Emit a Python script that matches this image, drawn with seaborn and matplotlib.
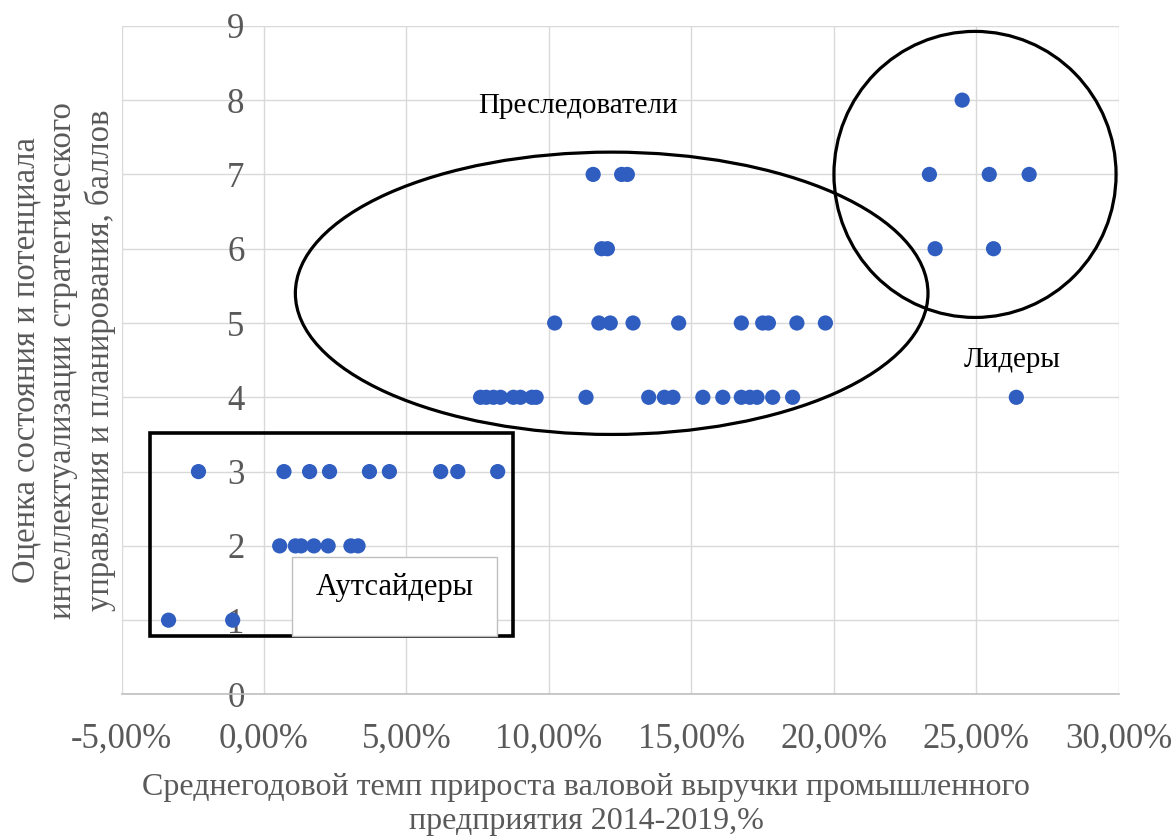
import numpy as np
import pandas as pd
import matplotlib
matplotlib.use('Agg')
import matplotlib.pyplot as plt
import seaborn as sns
from matplotlib.patches import Ellipse, Rectangle
from matplotlib.ticker import FuncFormatter

# Темп прироста выручки (%) и оценка (баллы) по строкам
growth_8 = [24.5]
growth_7 = [11.55, 12.55, 12.75, 23.35, 25.45, 26.85]
growth_6 = [11.85, 12.05, 23.55, 25.6]
growth_5 = [10.2, 11.75, 12.15, 12.95, 14.55, 16.75, 17.5, 17.7, 18.7, 19.7]
growth_4 = [7.6, 7.8, 8.05, 8.3, 8.75, 9.0, 9.4, 9.55, 11.3, 13.5, 14.05, 14.35,
            15.4, 16.1, 16.75, 17.05, 17.3, 17.85, 18.55, 26.4]
growth_3 = [-2.3, 0.7, 1.6, 2.3, 3.7, 4.4, 6.2, 6.8, 8.2]
growth_2 = [0.55, 1.1, 1.3, 1.75, 2.25, 3.05, 3.3]
growth_1 = [-3.35, -1.1]

x_ticks = [-5, 0, 5, 10, 15, 20, 25, 30]
y_ticks = list(range(0, 10))

rows = {8: growth_8, 7: growth_7, 6: growth_6, 5: growth_5,
        4: growth_4, 3: growth_3, 2: growth_2, 1: growth_1}
df = pd.DataFrame([(x, score) for score, xs in rows.items() for x in xs],
                  columns=['growth', 'score'])

sns.set_style('whitegrid')
plt.rcParams['font.family'] = ['Liberation Serif', 'DejaVu Serif']

fig = plt.figure(figsize=(11.72, 8.36), dpi=100)
ax = fig.add_axes([0.1037, 0.1693, 0.851, 0.7998])

sns.scatterplot(data=df, x='growth', y='score', ax=ax, color='#2F5EC0',
                s=120, edgecolor='none', zorder=3, clip_on=False)

ax.set_xlim(-5, 30)
ax.set_ylim(0, 9)
ax.set_xticks(x_ticks)
ax.set_yticks(y_ticks)
ax.xaxis.set_major_formatter(FuncFormatter(lambda v, p: f"{v:.2f}%".replace('.', ',')))
ax.grid(True, color='#d9d9d9', linewidth=1)
ax.set_axisbelow(True)

for s in ['top', 'right']:
    ax.spines[s].set_visible(False)
ax.spines['left'].set_position(('data', 0))
ax.spines['left'].set_visible(False)
ax.spines['bottom'].set_color('#bfbfbf')
ax.spines['bottom'].set_linewidth(1.2)

ax.tick_params(axis='x', length=0, pad=20, labelsize=25, labelcolor='#595959')
ax.tick_params(axis='y', length=0, pad=14, labelsize=25, labelcolor='#595959')
ax.set_xlabel('')
ax.set_ylabel('')

fig.text(0.5, 0.038, 'Среднегодовой темп прироста валовой выручки промышленного\nпредприятия 2014-2019,%',
         ha='center', va='center', fontsize=23, color='#595959', linespacing=1.22)
fig.text(0.054, 0.569, 'Оценка состояния и потенциала\nинтеллектуализации стратегического\nуправления и планирования, баллов',
         ha='center', va='center', rotation=90, fontsize=23.5, color='#595959',
         linespacing=1.25, multialignment='center')

# Группы
ax.add_patch(Ellipse((12.2, 5.4), 22.2, 3.8, fill=False, edgecolor='black',
                     linewidth=2.3, zorder=4))
ax.add_patch(Ellipse((24.95, 7.0), 9.9, 3.85, fill=False, edgecolor='black',
                     linewidth=2.3, zorder=4))
ax.add_patch(Rectangle((-4.0, 0.79), 12.74, 2.73, fill=False, edgecolor='black',
                       linewidth=2.6, zorder=4, clip_on=False))
ax.add_patch(Rectangle((0.98, 0.79), 7.2, 1.06, facecolor='white', edgecolor='#bfbfbf',
                       linewidth=1, zorder=4))

ax.text(11.0, 7.92, 'Преследователи', ha='center', va='center', fontsize=21, color='black', zorder=5)
ax.text(26.25, 4.5, 'Лидеры', ha='center', va='center', fontsize=21, color='black', zorder=5)
ax.text(4.6, 1.44, 'Аутсайдеры', ha='center', va='center', fontsize=22, color='black', zorder=5)

fig.savefig('out.png', dpi=100)
